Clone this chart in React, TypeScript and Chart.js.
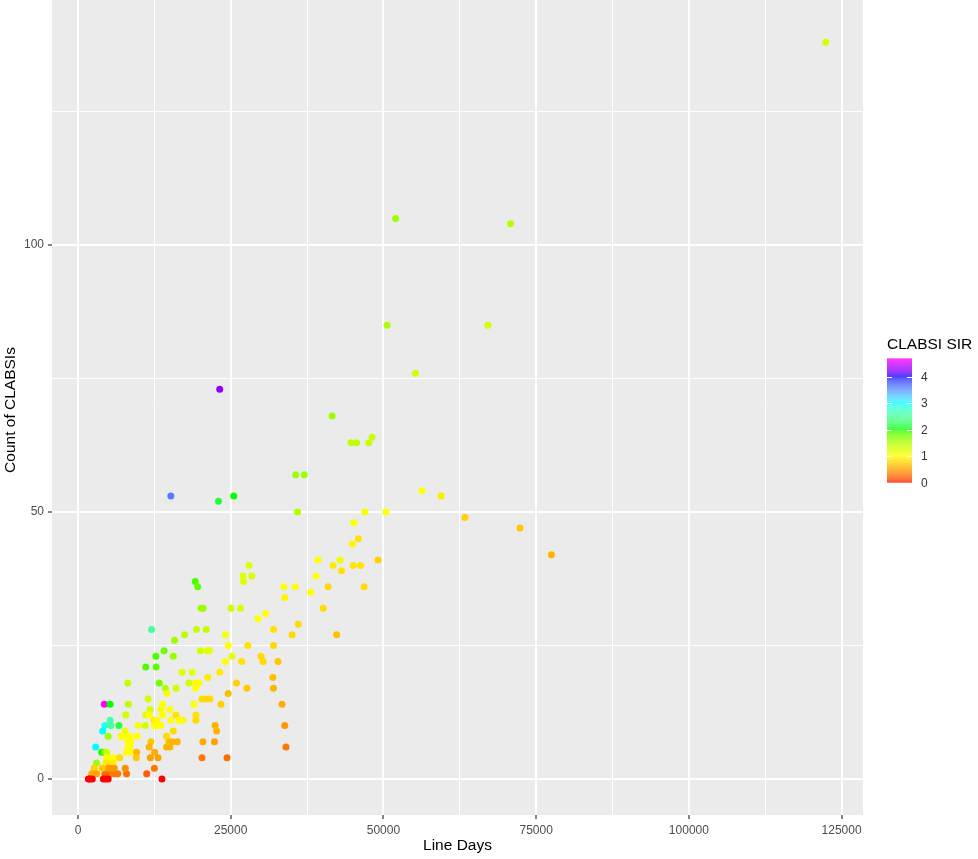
import React, { useEffect, useRef } from 'react';
import { Chart, registerables } from 'chart.js';

Chart.register(...registerables);

// ---- Data ----
const lineDays = [
  122400, 52000, 70800, 50600, 67100, 55250, 23200, 41600, 44700, 45600,
  47600, 48150, 35650, 37050, 56300, 15200, 23000, 25500, 35950, 46950,
  50400, 59450, 63350, 72350, 77500, 45150, 45900, 44900, 39300, 41750,
  42900, 45050, 46250, 49100, 43150, 28000, 27000, 28450, 38950, 19200,
  27100, 19600, 33700, 35550, 33850, 38100, 40950, 46850, 40150, 36050,
  35050, 42350, 20150, 20500, 25050, 26600, 30700, 29450, 17450, 19400,
  21000, 24150, 32000, 24600, 27800, 32000, 20050, 21150, 21500, 25250,
  24100, 26800, 29950, 30300, 32750, 17050, 18700, 18150, 19250, 19800,
  19250, 21250, 23200, 31900, 25950, 27650, 32000, 24600, 20300, 20950,
  21600, 19000, 23400, 33400, 19300, 17150, 16700, 19300, 22450, 22700,
  33850, 20450, 22350, 34050, 20300, 24400,
  12050, 15800, 14100, 15600, 12750, 11100, 12800, 8150, 13300, 14300,
  16050, 14550, 4300, 5250, 8250, 11500, 11800, 13600, 15050, 13850,
  7850, 11100, 11650, 13850, 16050, 12450, 12900, 15200, 16550, 5250,
  4400, 5400, 6700, 4050, 4950, 7700, 7050, 7400, 8500, 9700,
  9850, 11000, 12500, 13000, 13550, 14500, 15600, 2900, 3900, 4300,
  4700, 3050, 4700, 5600, 5950, 6850, 4600, 5250, 5750, 8200,
  8650, 8200, 8500, 7950, 8650, 9600, 9550, 11950, 11650, 12550,
  11850, 13100, 14500, 14900, 15400, 16250, 15050, 12500, 11250, 13750,
  7950, 7750, 6500, 5950, 5250, 4800, 4400, 5500, 5950, 4950,
  3950, 2650, 2250, 2800, 3050, 1700, 1950, 2350, 4150, 4550,
  4950,
];

const clabsiCounts = [
  138, 105, 104, 85, 85, 76, 73, 68, 63, 63,
  63, 64, 57, 57, 54, 53, 52, 53, 50, 50,
  50, 53, 49, 47, 42, 48, 45, 44, 41, 40,
  41, 40, 40, 41, 39, 40, 38, 38, 38, 37,
  37, 36, 36, 36, 34, 35, 36, 36, 32, 29,
  27, 27, 32, 32, 32, 32, 31, 30, 27, 28,
  28, 27, 28, 25, 25, 25, 24, 24, 24, 23,
  22, 22, 23, 22, 22, 20, 20, 18, 18, 18,
  17, 19, 20, 19, 18, 17, 17, 16, 15, 15,
  15, 14, 14, 14, 12, 11, 11, 11, 10, 9,
  10, 7, 7, 6, 4, 4,
  28, 26, 24, 23, 23, 21, 21, 18, 18, 17,
  17, 16, 14, 14, 14, 15, 13, 13, 13, 14,
  12, 12, 12, 12, 12, 11, 11, 11, 11, 11,
  10, 10, 10, 9, 8, 9, 8, 8, 8, 8,
  10, 10, 10, 10, 10, 8, 9, 6, 5, 5,
  5, 3, 4, 4, 4, 4, 3, 3, 3, 7,
  7, 6, 6, 5, 5, 5, 4, 7, 6, 5,
  4, 4, 6, 7, 7, 7, 6, 2, 1, 0,
  1, 2, 1, 1, 1, 1, 1, 2, 2, 2,
  2, 2, 1, 1, 1, 0, 0, 0, 0, 0,
  0,
];

const clabsiSIR = [
  1.3, 1.6, 1.45, 1.5, 1.3, 1.3, 4.25, 1.6, 1.4, 1.4,
  1.35, 1.35, 1.6, 1.6, 1.0, 3.6, 2.1, 2.0, 1.5, 1.05,
  1.0, 0.9, 0.75, 0.7, 0.6, 1.0, 0.85, 0.95, 1.0, 0.9,
  1.1, 0.85, 0.85, 0.75, 0.85, 1.2, 1.2, 1.25, 1.0, 1.9,
  1.25, 1.85, 1.0, 1.0, 0.95, 1.0, 0.8, 0.8, 0.8, 0.8,
  0.8, 0.65, 1.6, 1.6, 1.3, 1.25, 1.0, 1.0, 1.45, 1.35,
  1.35, 1.05, 0.85, 1.0, 0.85, 0.8, 1.3, 1.2, 1.15, 1.2,
  1.0, 0.85, 0.8, 0.8, 0.7, 1.2, 1.15, 1.3, 1.05, 1.0,
  1.0, 0.9, 0.9, 0.65, 0.75, 0.7, 0.6, 0.65, 0.8, 0.8,
  0.8, 1.0, 0.75, 0.55, 0.85, 0.95, 1.0, 0.8, 0.6, 0.6,
  0.45, 0.55, 0.5, 0.3, 0.3, 0.25,
  2.5, 1.6, 1.8, 1.6, 1.9, 1.9, 1.85, 1.4, 1.8, 1.5,
  1.3, 1.05, 4.7, 2.0, 1.4, 1.3, 1.3, 1.05, 1.0, 1.0,
  1.3, 1.2, 1.0, 1.0, 0.85, 0.9, 1.0, 1.0, 1.0, 2.6,
  2.9, 2.5, 2.1, 3.0, 1.6, 1.1, 1.0, 1.0, 1.0, 1.0,
  1.05, 1.3, 1.0, 1.0, 1.0, 0.8, 0.8, 3.0, 2.0, 1.8,
  1.3, 1.6, 1.0, 1.0, 1.0, 0.8, 0.9, 0.9, 0.9, 1.0,
  1.0, 1.0, 1.0, 1.0, 1.0, 0.6, 0.7, 0.7, 0.6, 0.55,
  0.5, 0.5, 0.6, 0.65, 0.6, 0.6, 0.6, 0.3, 0.2, 0.0,
  0.25, 0.4, 0.3, 0.3, 0.3, 0.3, 0.25, 0.45, 0.45, 0.45,
  0.7, 0.75, 0.55, 0.55, 0.55, 0.0, 0.0, 0.0, 0.0, 0.0,
  0.0,
];

const xMajorTicks = [0, 25000, 50000, 75000, 100000, 125000];
const xMinorTicks = [12500, 37500, 62500, 87500, 112500];
const yMajorTicks = [0, 50, 100];
const yMinorTicks = [25, 75, 125];
const legendTicks = [0, 1, 2, 3, 4];
const sirLimits = [0, 4.68];
const xTitle = 'Line Days';
const yTitle = 'Count of CLABSIs';
const legendTitle = 'CLABSI SIR';

const FONT = '"Liberation Sans", Arial, Helvetica, sans-serif';

// ---- rainbow gradient (red→yellow→green→cyan→blue→magenta), Lab interpolation ----
const rainbowAnchors = ['#FF0000', '#FFFF00', '#00FF00', '#00FFFF', '#0000FF', '#FF00FF'];
const anchorValues = [0, 1, 2, 3, 4, 4.68];

function hexToRgb(h: string) {
  return [parseInt(h.slice(1, 3), 16), parseInt(h.slice(3, 5), 16), parseInt(h.slice(5, 7), 16)];
}
function toLin(c: number) {
  c /= 255;
  return c <= 0.04045 ? c / 12.92 : Math.pow((c + 0.055) / 1.055, 2.4);
}
function fromLin(c: number) {
  const v = c <= 0.0031308 ? 12.92 * c : 1.055 * Math.pow(c, 1 / 2.4) - 0.055;
  return Math.max(0, Math.min(255, Math.round(v * 255)));
}
const XN = 0.95047, YN = 1, ZN = 1.08883;
function rgbToLab(rgb: number[]) {
  const r = toLin(rgb[0]), g = toLin(rgb[1]), b = toLin(rgb[2]);
  const X = 0.4124 * r + 0.3576 * g + 0.1805 * b;
  const Y = 0.2126 * r + 0.7152 * g + 0.0722 * b;
  const Z = 0.0193 * r + 0.1192 * g + 0.9505 * b;
  const f = (t: number) => (t > 0.008856 ? Math.cbrt(t) : 7.787 * t + 16 / 116);
  const fx = f(X / XN), fy = f(Y / YN), fz = f(Z / ZN);
  return [116 * fy - 16, 500 * (fx - fy), 200 * (fy - fz)];
}
function labToRgb(lab: number[]) {
  const fy = (lab[0] + 16) / 116;
  const fx = fy + lab[1] / 500;
  const fz = fy - lab[2] / 200;
  const inv = (t: number) => (t * t * t > 0.008856 ? t * t * t : (t - 16 / 116) / 7.787);
  const X = XN * inv(fx), Y = YN * inv(fy), Z = ZN * inv(fz);
  const r = 3.2406 * X - 1.5372 * Y - 0.4986 * Z;
  const g = -0.9689 * X + 1.8758 * Y + 0.0415 * Z;
  const b = 0.0557 * X - 0.204 * Y + 1.057 * Z;
  return [fromLin(r), fromLin(g), fromLin(b)];
}
const anchorLabs = rainbowAnchors.map((h) => rgbToLab(hexToRgb(h)));

function sirColor(v: number) {
  const last = anchorValues.length - 1;
  const c = Math.max(anchorValues[0], Math.min(anchorValues[last], v));
  let i = 0;
  while (i < last - 1 && c > anchorValues[i + 1]) i++;
  const f = (c - anchorValues[i]) / (anchorValues[i + 1] - anchorValues[i]);
  const a = anchorLabs[i], b = anchorLabs[i + 1];
  const rgb = labToRgb([a[0] + (b[0] - a[0]) * f, a[1] + (b[1] - a[1]) * f, a[2] + (b[2] - a[2]) * f]);
  return `rgb(${rgb[0]},${rgb[1]},${rgb[2]})`;
}

const decorPlugin = {
  id: 'ggdecor',
  beforeDraw(chart: any) {
    const { ctx, chartArea } = chart;
    ctx.save();
    ctx.fillStyle = '#FFFFFF';
    ctx.fillRect(0, 0, chart.width, chart.height);
    ctx.fillStyle = '#EBEBEB';
    ctx.fillRect(chartArea.left, chartArea.top, chartArea.right - chartArea.left, chartArea.bottom - chartArea.top);
    ctx.restore();
  },
  afterDraw(chart: any) {
    const { ctx, chartArea } = chart;
    ctx.save();
    // axis titles
    ctx.fillStyle = '#000000';
    ctx.font = `15.5px ${FONT}`;
    ctx.textAlign = 'center';
    ctx.textBaseline = 'middle';
    ctx.fillText(xTitle, (chartArea.left + chartArea.right) / 2, 846);
    ctx.save();
    ctx.translate(11, 410);
    ctx.rotate(-Math.PI / 2);
    ctx.fillText(yTitle, 0, 0);
    ctx.restore();

    // legend (colour bar)
    const barX = 887, barW = 25, barTop = 358.5, barBottom = 482.5;
    const perUnit = (barBottom - barTop) / (sirLimits[1] - sirLimits[0]);
    ctx.textAlign = 'left';
    ctx.textBaseline = 'alphabetic';
    ctx.font = `15.5px ${FONT}`;
    ctx.fillText(legendTitle, barX, 349);
    for (let y = barTop; y < barBottom; y += 1) {
      const v = sirLimits[0] + (barBottom - (y + 0.5)) / perUnit;
      ctx.fillStyle = sirColor(v);
      ctx.fillRect(barX, y, barW, 1.05);
    }
    ctx.strokeStyle = '#FFFFFF';
    ctx.lineWidth = 1;
    ctx.font = `12px ${FONT}`;
    ctx.textBaseline = 'middle';
    for (const t of legendTicks) {
      const y = Math.round(barBottom - (t - sirLimits[0]) * perUnit) + 0.5;
      ctx.beginPath();
      ctx.moveTo(barX, y);
      ctx.lineTo(barX + 5, y);
      ctx.moveTo(barX + barW - 5, y);
      ctx.lineTo(barX + barW, y);
      ctx.stroke();
      ctx.fillStyle = '#333333';
      ctx.fillText(String(t), barX + barW + 9, y);
    }
    ctx.restore();
  },
};

export default function App() {
  const canvasRef = useRef<HTMLCanvasElement | null>(null);

  useEffect(() => {
    const canvas = canvasRef.current;
    if (!canvas) return;
    const points = lineDays.map((x, i) => ({ x, y: clabsiCounts[i] }));
    const colors = clabsiSIR.map(sirColor);
    const xAll = [...xMajorTicks, ...xMinorTicks].sort((a, b) => a - b);
    const yAll = [...yMajorTicks, ...yMinorTicks].sort((a, b) => a - b);

    const chart = new Chart(canvas, {
      type: 'scatter',
      data: {
        datasets: [
          {
            data: points,
            pointBackgroundColor: colors,
            pointBorderWidth: 0,
            pointBorderColor: 'rgba(0,0,0,0)',
            pointRadius: 3.5,
            pointHoverRadius: 3.5,
          },
        ],
      },
      options: {
        responsive: false,
        animation: false,
        events: [],
        layout: { padding: { top: 0, right: 115, left: 0, bottom: 0 } },
        plugins: { legend: { display: false }, tooltip: { enabled: false } },
        scales: {
          x: {
            type: 'linear',
            min: -4250,
            max: 128500,
            afterBuildTicks: (s: any) => {
              s.ticks = xAll.map((v) => ({ value: v }));
            },
            afterFit: (s: any) => {
              s.height = 44;
              s.paddingLeft = 0;
              s.paddingRight = 0;
            },
            ticks: {
              autoSkip: false,
              maxRotation: 0,
              padding: 4,
              color: '#4D4D4D',
              font: { size: 12, family: FONT },
              callback: (v: any) => (xMajorTicks.includes(Number(v)) ? String(v) : ''),
            },
            grid: {
              color: '#FFFFFF',
              lineWidth: (c: any) => (c.tick && xMajorTicks.includes(c.tick.value) ? 2 : 1),
              tickColor: (c: any) => (c.tick && xMajorTicks.includes(c.tick.value) ? '#333333' : 'rgba(0,0,0,0)'),
              tickLength: 4,
              tickWidth: 1.2,
            },
            border: { display: false },
          },
          y: {
            type: 'linear',
            min: -6.74,
            max: 145.9,
            afterBuildTicks: (s: any) => {
              s.ticks = yAll.map((v) => ({ value: v }));
            },
            afterFit: (s: any) => {
              s.width = 52;
              s.paddingTop = 0;
              s.paddingBottom = 0;
            },
            ticks: {
              autoSkip: false,
              padding: 4,
              color: '#4D4D4D',
              font: { size: 12, family: FONT },
              callback: (v: any) => (yMajorTicks.includes(Number(v)) ? String(v) : ''),
            },
            grid: {
              color: '#FFFFFF',
              lineWidth: (c: any) => (c.tick && yMajorTicks.includes(c.tick.value) ? 2 : 1),
              tickColor: (c: any) => (c.tick && yMajorTicks.includes(c.tick.value) ? '#333333' : 'rgba(0,0,0,0)'),
              tickLength: 4,
              tickWidth: 1.2,
            },
            border: { display: false },
          },
        },
      },
      plugins: [decorPlugin],
    } as any);

    // Let the plot panel reach the top edge (no extra padding for point overflow).
    const meta = chart.getDatasetMeta(0) as any;
    if (meta && meta.controller) {
      meta.controller.getMaxOverflow = () => 0;
      chart.update('none');
    }

    return () => {
      chart.destroy();
    };
  }, []);

  return (
    <div style={{ position: 'absolute', left: 0, top: 0, width: 978, height: 859 }}>
      <canvas ref={canvasRef} width={978} height={859} style={{ display: 'block', width: 978, height: 859 }} />
    </div>
  );
}
